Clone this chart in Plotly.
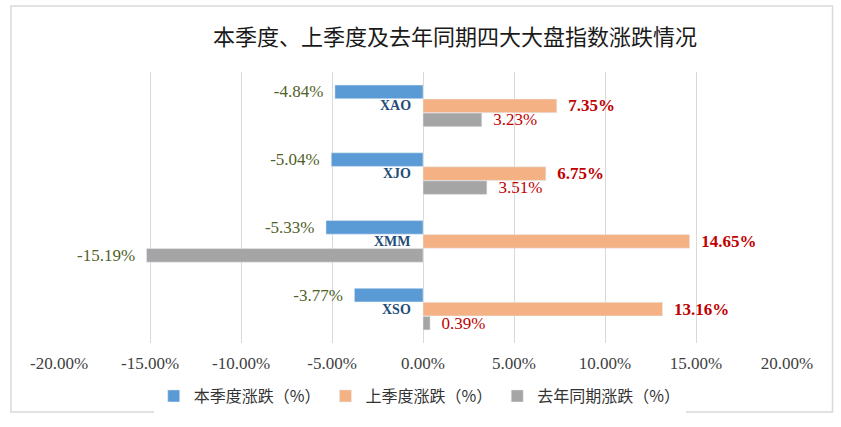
import plotly.graph_objects as go

categories = ["XAO", "XJO", "XMM", "XSO"]
this_quarter = [-4.84, -5.04, -5.33, -3.77]
last_quarter = [7.35, 6.75, 14.65, 13.16]
last_year = [3.23, 3.51, -15.19, 0.39]
series_names = ["本季度涨跌（%）", "上季度涨跌（%）", "去年同期涨跌（%）"]
tick_vals = [-20, -15, -10, -5, 0, 5, 10, 15, 20]
tick_text = ["-20.00%", "-15.00%", "-10.00%", "-5.00%", "0.00%", "5.00%", "10.00%", "15.00%", "20.00%"]
title_text = "本季度、上季度及去年同期四大大盘指数涨跌情况"

GREEN = "#4f6228"
RED = "#c00000"
NUMFONT = "Liberation Serif"
CJK = "Noto Sans CJK SC"
PAD = "\u00a0\u00a0"


def fmt(v, bold=False):
    s = f"{v:.2f}%"
    if bold:
        s = f"<b>{s}</b>"
    return s + PAD if v < 0 else PAD + s


def sign_colors(vals):
    return [RED if v >= 0 else GREEN for v in vals]


fig = go.Figure()
fig.add_trace(go.Bar(
    y=categories, x=this_quarter, orientation="h", name=series_names[0],
    marker=dict(color="#5b9bd5"),
    text=[fmt(v) for v in this_quarter], textposition="outside",
    textfont=dict(family=NUMFONT, size=17, color=GREEN),
    constraintext="none", cliponaxis=False,
))
fig.add_trace(go.Bar(
    y=categories, x=last_quarter, orientation="h", name=series_names[1],
    marker=dict(color="#f4b183"),
    text=[fmt(v, bold=True) for v in last_quarter], textposition="outside",
    textfont=dict(family=NUMFONT, size=17, color=RED),
    constraintext="none", cliponaxis=False,
))
fig.add_trace(go.Bar(
    y=categories, x=last_year, orientation="h", name=series_names[2],
    marker=dict(color="#a5a5a5"),
    text=[fmt(v) for v in last_year], textposition="outside",
    textfont=dict(family=NUMFONT, size=17, color=sign_colors(last_year)),
    constraintext="none", cliponaxis=False,
))

for c in categories:
    fig.add_annotation(
        x=0, y=c, xref="x", yref="y", text=f"<b>{c}</b>", showarrow=False,
        xanchor="right", yanchor="middle", xshift=-10,
        font=dict(family=NUMFONT, size=14, color="#1f4e79"),
    )

fig.add_shape(
    type="rect", xref="paper", yref="paper",
    x0=-0.066, x1=1.0625, y0=-0.2546, y1=1.2435,
    line=dict(color="#d9d9d9", width=1.5), fillcolor="rgba(0,0,0,0)", layer="below",
)

fig.update_layout(
    width=841, height=427,
    paper_bgcolor="white", plot_bgcolor="white",
    margin=dict(l=59, r=54, t=72, b=84),
    barmode="group", bargap=0.38, bargroupgap=0.03,
    title=dict(text=title_text, x=0.541, y=0.913, xanchor="center", yanchor="middle",
               font=dict(family=CJK, size=22, color="#1a1a1a")),
    xaxis=dict(range=[-20, 20], tickvals=tick_vals, ticktext=tick_text,
               showgrid=True, gridcolor="#d9d9d9", gridwidth=1,
               zeroline=True, zerolinecolor="#d9d9d9", zerolinewidth=1,
               showline=False, ticks="", fixedrange=True, ticklabelstandoff=8,
               tickfont=dict(family=NUMFONT, size=17, color="#404040")),
    yaxis=dict(categoryorder="array", categoryarray=categories, autorange="reversed",
               showticklabels=False, showgrid=False, zeroline=False, showline=False, ticks="",
               fixedrange=True),
    legend=dict(orientation="h", x=0.4955, y=-0.1956, xanchor="center", yanchor="middle",
                font=dict(family=CJK, size=16, color="#333333"),
                itemwidth=30, traceorder="normal"),
    showlegend=True,
)

fig.write_html("out.html", config={"displayModeBar": False},
               post_script="document.body.style.margin='0px';document.body.style.overflow='hidden';")
